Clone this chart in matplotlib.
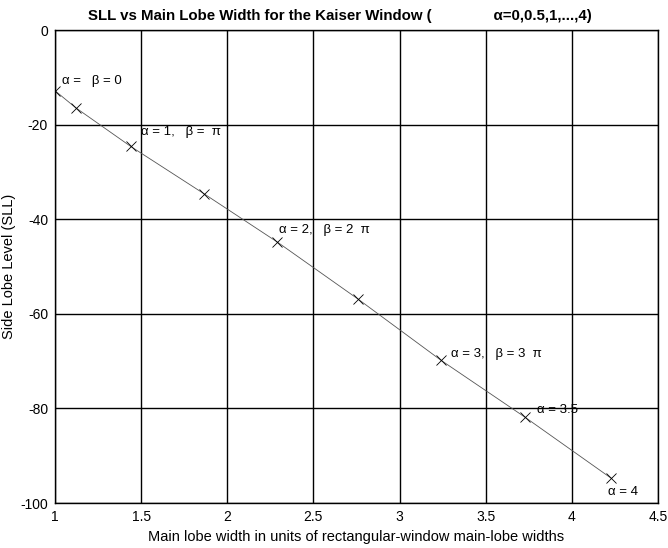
import numpy as np
import matplotlib.pyplot as plt

plt.rcParams['font.family'] = ['Liberation Sans', 'DejaVu Sans']
plt.rcParams['axes.unicode_minus'] = False

# Ширина головної пелюстки та рівень бічних пелюсток (alpha = 0, 0.5, ..., 4)
main_lobe = [1.0, 1.12, 1.44, 1.865, 2.29, 2.76, 3.24, 3.73, 4.23]
sll = [-12.8, -16.4, -24.6, -34.6, -44.8, -56.9, -69.8, -81.9, -94.8]

# Підписи окремих точок
label_idx = [0, 2, 4, 6, 7, 8]
labels = ['α =   β = 0',
          'α = 1,   β =  π',
          'α = 2,   β = 2  π',
          'α = 3,   β = 3  π',
          'α = 3.5',
          'α = 4']
offsets = [(0.04, 2.0), (0.06, 3.0), (0.01, 2.5), (0.06, 1.3), (0.07, 1.6), (-0.02, -2.9)]

fig = plt.figure(figsize=(6.68, 5.48), dpi=100)
ax = fig.add_axes([0.0823, 0.0821, 0.9027, 0.8629])

ax.plot(main_lobe, sll, color='#555555', linewidth=0.6, marker='x',
        markersize=7, markeredgewidth=0.6, markeredgecolor='black')

for i, lab, (dx, dy) in zip(label_idx, labels, offsets):
    ax.text(main_lobe[i] + dx, sll[i] + dy, lab, fontsize=9.5, va='center', ha='left')

ax.set_xlim(1, 4.5)
ax.set_ylim(-100, 0)
ax.set_xticks([1, 1.5, 2, 2.5, 3, 3.5, 4, 4.5])
ax.set_xticklabels(['1', '1.5', '2', '2.5', '3', '3.5', '4', '4.5'])
ax.set_yticks([0, -20, -40, -60, -80, -100])
ax.grid(True, color='black', linewidth=1.0)
ax.tick_params(length=0, labelsize=10, pad=5)
for s in ax.spines.values():
    s.set_linewidth(1.0)

ax.set_xlabel('Main lobe width in units of rectangular-window main-lobe widths', fontsize=10.5, labelpad=4)
ax.set_ylabel('Side Lobe Level (SLL)', fontsize=10.5, labelpad=3)
ax.set_title('SLL vs Main Lobe Width for the Kaiser Window (               α=0,0.5,1,...,4)',
             fontsize=10.8, fontweight='bold', pad=7, x=0.473)

fig.savefig('out.png', dpi=100)
